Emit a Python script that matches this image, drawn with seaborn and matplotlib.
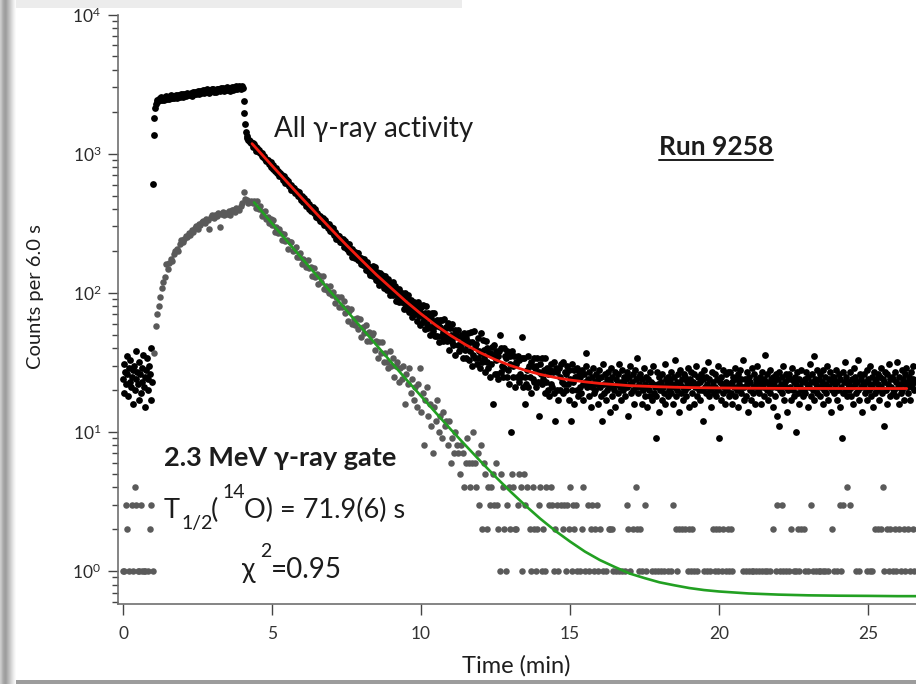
import numpy as np
import pandas as pd
import matplotlib
matplotlib.use("Agg")
import matplotlib.pyplot as plt
from matplotlib.lines import Line2D
from matplotlib.patches import Rectangle
from matplotlib.ticker import LogLocator, NullFormatter, NullLocator
import seaborn as sns

# ---------------------------------------------------------------- data
BLACK_BIN_MIN = 0.025   # time step of the all-gamma series (min)
GRAY_BIN_MIN = 0.05     # time step of the 2.3 MeV gated series (min)

# all gamma-ray activity, counts per 6.0 s
black_background = [24, 31, 19, 27, 22, 35, 26, 18, 29, 23, 33, 21, 25, 16, 28, 30, 20, 38, 24, 27,
                    22, 17, 32, 26, 19, 29, 23, 36, 21, 25, 15, 28, 34, 24, 20, 30, 26, 17, 40, 23]

black_beam = [610, 1360, 1790, 2120, 2290, 2360, 2420, 2390, 2460,
              2504, 2436, 2540, 2423, 2477, 2508, 2413, 2544, 2474, 2580, 2460, 2541, 2521, 2451, 2583, 2513, 2619, 2498, 2580, 2534,
              2514, 2596, 2653, 2555, 2508, 2644, 2597, 2628, 2555, 2691, 2592, 2675, 2550, 2634, 2692, 2591, 2677, 2735, 2633, 2665,
              2697, 2623, 2737, 2690, 2615, 2784, 2683, 2743, 2777, 2674, 2736, 2825, 2721, 2673, 2790, 2824, 2720, 2782, 2873, 2767,
              2744, 2860, 2808, 2784, 2900, 2764, 2852, 2743, 2889, 2836, 2812, 2901, 2933, 2795, 2856, 2889, 2778, 2925, 2843, 2905,
              2907, 2823, 2971, 2858, 2890, 2951, 2809, 2928, 2873, 2963, 2995, 2853, 2914, 2888, 2978, 2835, 2955, 2988, 2873, 2935,
              2999, 2916, 2951, 3045, 2903, 2997, 2943, 3038, 2984, 2929, 3025, 3060,
              2950, 2400, 1950, 1620, 1430, 1330, 1290, 1260, 1245, 1232, 1215, 1200, 1186]

black_decay = [
    1191, 1123, 1176, 1109, 1111, 1052, 1102, 1060, 1024, 1062, 1012, 1013, 959, 1014, 952, 968, 913, 928, 878, 906,
    881, 904, 849, 858, 871, 805, 819, 824, 777, 794, 748, 783, 758, 728, 755, 719, 695, 728, 687, 698,
    693, 650, 686, 644, 616, 652, 631, 604, 638, 581, 591, 600, 546, 578, 565, 541, 566, 521, 540, 517,
    536, 492, 531, 489, 497, 461, 497, 472, 451, 482, 447, 455, 418, 460, 419, 435, 399, 415, 385, 408,
    391, 413, 376, 387, 400, 353, 367, 373, 343, 359, 326, 356, 341, 323, 344, 321, 306, 334, 305, 315,
    314, 292, 313, 291, 277, 297, 285, 272, 291, 262, 267, 273, 245, 261, 256, 243, 258, 233, 244, 233,
    231, 244, 234, 214, 236, 218, 226, 207, 213, 223, 197, 208, 199, 206, 182, 199, 186, 197, 179, 184,
    192, 173, 193, 172, 177, 162, 179, 168, 158, 174, 159, 164, 145, 166, 147, 156, 141, 147, 134, 146,
    138, 157, 132, 143, 154, 123, 135, 142, 121, 135, 114, 138, 127, 118, 135, 120, 109, 133, 113, 122,
    121, 104, 125, 107, 97, 117, 110, 100, 119, 97, 103, 111, 87, 105, 101, 92, 106, 86, 100, 89,
    86, 100, 92, 77, 99, 83, 93, 76, 85, 96, 73, 86, 78, 88, 67, 84, 74, 86, 70, 79,
    81, 63, 86, 68, 73, 59, 79, 70, 62, 82, 65, 72, 55, 80, 60, 71, 56, 66, 50, 66,
    57, 71, 53, 62, 71, 49, 58, 64, 49, 60, 44, 64, 57, 49, 64, 52, 45, 65, 49, 57,
    56, 45, 61, 47, 39, 56, 50, 44, 60, 42, 48, 54, 36, 50, 49, 42, 54, 38, 49, 42,
    40, 50, 45, 34, 51, 39, 47, 34, 42, 51, 33, 44, 38, 52, 30, 44, 36, 53, 34, 41,
    43, 31, 47, 34, 38, 29, 51, 37, 32, 46, 34, 39, 27, 45, 32, 40, 29, 37, 25, 37,
    31, 41, 16, 36, 42, 26, 33, 38, 26, 35, 24, 38, 50, 27, 40, 30, 25, 40, 29, 35,
    34, 25, 38, 28, 22, 35, 31, 10, 38, 25, 30, 35, 21, 32, 31, 25, 35, 23, 33, 26,
    25, 34, 48, 21, 34, 25, 16, 22, 28, 35, 21, 30, 25, 32, 19, 30, 24, 34, 23, 29,
    30, 21, 34, 23, 27, 13, 31, 26, 22, 34, 24, 28, 19, 34, 23, 29, 20, 26, 18, 28,
    22, 31, 21, 27, 32, 19, 12, 29, 20, 27, 17, 29, 25, 20, 31, 23, 19, 32, 22, 27,
    26, 20, 30, 22, 17, 28, 24, 12, 31, 20, 23, 28, 16, 25, 25, 20, 29, 18, 27, 21,
    25, 19, 28, 22, 17, 26, 23, 37, 30, 21, 24, 18, 27, 22, 15, 25, 21, 29, 19, 23,
    20, 26, 22, 16, 24, 28, 21, 18, 25, 12, 31, 19, 22, 26, 17, 24, 20, 27, 21, 14,
    23, 29, 18, 25, 21, 20, 27, 15, 24, 22, 26, 19, 31, 21, 23, 17, 28, 20, 25, 22,
    18, 24, 27, 21, 13, 25, 22, 30, 19, 23, 26, 20, 16, 28, 21, 24, 34, 19, 22, 25,
    26, 21, 16, 24, 20, 29, 22, 18, 25, 21, 15, 24, 20, 27, 18, 23, 17, 22, 30, 19,
    21, 9, 18, 27, 22, 14, 25, 20, 23, 17, 26, 21, 19, 31, 16, 24, 22, 18, 25, 20,
    24, 19, 27, 22, 16, 25, 21, 33, 18, 23, 20, 26, 14, 22, 28, 19, 24, 21, 17, 26,
    20, 25, 18, 23, 29, 21, 15, 24, 22, 27, 19, 23, 16, 26, 21, 30, 18, 22, 25, 20,
    23, 17, 26, 20, 24, 12, 28, 21, 19, 25, 22, 32, 18, 24, 20, 15, 27, 21, 23, 19,
    26, 21, 18, 24, 30, 20, 9, 23, 17, 25, 22, 28, 19, 21, 16, 26, 23, 20, 27, 18,
    22, 27, 19, 23, 16, 25, 21, 29, 18, 24, 20, 26, 15, 22, 28, 19, 24, 21, 33, 17,
    21, 24, 18, 27, 22, 14, 25, 20, 23, 17, 29, 21, 19, 26, 16, 24, 22, 30, 20, 23,
    19, 25, 22, 16, 27, 21, 24, 18, 36, 23, 20, 26, 17, 22, 28, 19, 24, 21, 15, 25,
    23, 18, 26, 21, 13, 24, 11, 27, 20, 22, 25, 19, 30, 17, 23, 21, 26, 14, 24, 20,
    26, 21, 17, 24, 29, 20, 23, 18, 25, 10, 22, 27, 19, 24, 16, 21, 28, 20, 23, 18,
    20, 24, 19, 27, 22, 15, 25, 21, 31, 18, 23, 26, 20, 35, 17, 24, 22, 19, 28, 21,
    24, 18, 26, 21, 23, 16, 28, 20, 25, 19, 22, 30, 17, 24, 21, 27, 14, 23, 20, 25,
    19, 25, 22, 28, 17, 23, 20, 26, 15, 24, 21, 9, 27, 19, 23, 32, 20, 25, 18, 22,
    23, 20, 27, 18, 24, 21, 16, 29, 22, 25, 19, 23, 33, 20, 17, 26, 21, 24, 14, 22,
    21, 26, 19, 23, 28, 17, 24, 20, 22, 30, 18, 25, 21, 15, 27, 23, 19, 24, 20, 26,
    22, 17, 25, 21, 29, 19, 24, 11, 23, 27, 20, 16, 26, 22, 31, 18, 24, 21, 25, 19,
    24, 20, 27, 18, 23, 32, 21, 16, 25, 22, 19, 28, 20, 24, 17, 26, 22, 29, 21, 23,
    19, 25, 22, 17, 27, 21, 24, 30, 20, 23]

# 2.3 MeV gamma-ray gate, counts per 6.0 s (zeros fall off the log axis)
gray_background = [1, 1, 3, 2, 1, 0, 3, 1, 4, 3, 1, 1, 3, 1, 1, 1, 0, 1, 2, 3, 1]

gray_beam = [37, 58, 70, 80, 93, 108, 120, 130, 160, 148, 165, 176, 170, 190, 200, 207, 198, 225, 238,
             230, 245, 258, 250, 268, 262, 281, 275, 290, 300, 288, 313, 305, 320, 330, 318, 340, 335, 288, 350,
             360, 345, 365, 355, 372, 297, 370, 380, 362, 375, 370, 385, 360, 392, 391, 380, 405, 402, 395, 420,
             440, 528, 470, 461, 440, 450, 455, 440]

gray_decay = [
    458, 406, 454, 400, 417, 358, 378, 386, 339, 350,
    316, 337, 308, 332, 273, 297, 269, 288, 267, 239,
    265, 235, 240, 208, 231, 233, 200, 202, 212, 180,
    180, 194, 162, 176, 168, 152, 173, 150, 154, 131,
    151, 129, 136, 115, 133, 119, 131, 106, 112, 104,
    99, 111, 96, 101, 84, 93, 94, 79, 93, 79,
    87, 72, 78, 63, 74, 77, 60, 65, 59, 66,
    55, 65, 48, 57, 51, 59, 45, 52, 45, 50,
    51, 39, 45, 34, 44, 37, 44, 32, 37, 32,
    29, 38, 30, 34, 25, 30, 32, 23, 29, 24,
    30, 16, 26, 22, 29, 19, 24, 17, 21, 15,
    22, 29, 14, 19, 8, 17, 21, 13, 16, 11,
    7, 15, 12, 17, 10, 13, 9, 14, 11, 12,
    8, 12, 6, 9, 7, 10, 8, 7, 5, 8,
    7, 4, 6, 9, 6, 4, 6, 10, 6, 4,
    7, 3, 8, 2, 6, 5, 2, 4, 3, 4,
    5, 3, 6, 3, 2, 1, 5, 4, 2, 1,
    3, 4, 2, 5, 4, 2, 2, 3, 5, 4,
    1, 5, 3, 4, 0, 2, 1, 4, 2, 1,
    2, 3, 4, 1, 2, 1, 4, 0, 3, 4,
    3, 1, 2, 3, 1, 0, 3, 2, 3, 1,
    3, 2, 4, 1, 3, 2, 3, 1, 0, 1,
    2, 4, 1, 0, 3, 1, 2, 3, 1, 2,
    3, 1, 2, 0, 1, 0, 1, 0, 2, 2,
    2, 1, 0, 1, 0, 1, 0, 1, 0, 1,
    3, 2, 1, 0, 2, 0, 4, 2, 1, 2,
    1, 0, 3, 1, 0, 0, 0, 1, 0, 1,
    0, 1, 0, 1, 0, 1, 0, 0, 1, 0,
    1, 3, 0, 2, 1, 2, 0, 2, 0, 2,
    0, 1, 2, 1, 2, 1, 0, 1, 0, 0,
    0, 0, 1, 0, 1, 0, 1, 0, 2, 1,
    2, 1, 2, 0, 1, 2, 0, 1, 2, 1,
    2, 1, 0, 0, 0, 0, 0, 0, 1, 0,
    1, 0, 1, 0, 1, 1, 0, 1, 0, 1,
    0, 1, 0, 1, 1, 0, 1, 0, 2, 0,
    1, 3, 0, 1, 3, 1, 0, 1, 0, 1,
    2, 0, 1, 0, 1, 2, 1, 2, 0, 2,
    1, 0, 1, 0, 3, 1, 0, 1, 0, 1,
    1, 0, 1, 1, 0, 1, 0, 0, 2, 1,
    0, 1, 0, 3, 1, 3, 0, 0, 4, 0,
    3, 0, 0, 0, 1, 0, 1, 0, 0, 0,
    0, 1, 0, 1, 0, 1, 0, 2, 0, 2,
    0, 2, 4, 1, 0, 2, 1, 2, 0, 1,
    2, 1, 0, 2, 1, 0, 2, 1, 0, 2,
    1, 0, 2, 1]

# fitted decay curves
red_fit_time = [4.33, 4.5, 5.0, 5.5, 6.0, 6.5, 7.0, 7.5, 8.0, 8.5, 9.0, 9.5, 10.0, 10.5, 11.0, 11.5,
                12.0, 12.5, 13.0, 13.5, 14.0, 14.5, 15.0, 15.5, 16.0, 16.5, 17.0, 17.5, 18.0, 18.5,
                19.0, 19.5, 20.0, 21.0, 22.0, 23.0, 24.0, 25.0, 26.3]
red_fit_counts = [1180, 1076, 820, 627, 480, 369, 284, 220, 172, 135, 108, 86.5, 70.5, 58.4, 49.2, 42.3,
                  37.0, 33.0, 30.0, 27.7, 25.9, 24.6, 23.6, 22.9, 22.3, 21.9, 21.5, 21.3, 21.1, 20.95,
                  20.84, 20.76, 20.7, 20.6, 20.56, 20.53, 20.51, 20.5, 20.5]

green_fit_time = [4.4, 4.5, 5.0, 5.5, 6.0, 6.5, 7.0, 7.5, 8.0, 8.5, 9.0, 9.5, 10.0, 10.5, 11.0, 11.5,
                  12.0, 12.5, 13.0, 13.5, 14.0, 14.5, 15.0, 15.5, 16.0, 16.5, 17.0, 17.5, 18.0, 18.5,
                  19.0, 19.5, 20.0, 21.0, 22.0, 23.0, 24.0, 25.0, 26.0, 26.7]
green_fit_counts = [446, 421, 315, 236, 177, 133, 99.5, 74.7, 56.1, 42.2, 31.7, 23.9, 18.1, 13.7, 10.4, 7.98,
                    6.14, 4.76, 3.73, 2.96, 2.38, 1.95, 1.63, 1.38, 1.20, 1.07, 0.96, 0.89, 0.83, 0.79,
                    0.755, 0.73, 0.713, 0.69, 0.677, 0.669, 0.665, 0.663, 0.66, 0.66]

x_ticks = [0, 5, 10, 15, 20, 25]
y_ticks = [1, 10, 100, 1000, 10000]
y_tick_labels = [r"$\mathregular{10^{0}}$", r"$\mathregular{10^{1}}$", r"$\mathregular{10^{2}}$",
                 r"$\mathregular{10^{3}}$", r"$\mathregular{10^{4}}$"]

# ---------------------------------------------------------------- frames
black_counts = black_background + black_beam + black_decay
gray_counts = gray_background + gray_beam + gray_decay
black_df = pd.DataFrame({"time": np.arange(len(black_counts)) * BLACK_BIN_MIN,
                         "counts": black_counts})
gray_df = pd.DataFrame({"time": np.arange(len(gray_counts)) * GRAY_BIN_MIN,
                        "counts": gray_counts})
gray_df = gray_df[gray_df["counts"] > 0]

# ---------------------------------------------------------------- style
sns.set_theme(style="ticks")
plt.rcParams["font.family"] = ["Lato", "DejaVu Sans"]
plt.rcParams["mathtext.fontset"] = "custom"
plt.rcParams["mathtext.rm"] = "Lato"
plt.rcParams["mathtext.it"] = "Lato:italic"
plt.rcParams["mathtext.bf"] = "Lato:bold"

W, H = 916, 684
fig = plt.figure(figsize=(W / 100, H / 100), dpi=100, facecolor="white")


def fx(px):
    return px / W


def fy(py):
    return 1 - py / H


# frame decorations around the slide
fig.add_artist(Rectangle((0, fy(8)), fx(462), 8 / H, transform=fig.transFigure,
                         facecolor="#ececec", edgecolor="none", zorder=0))
fig.add_artist(Rectangle((0, 0), 1, 4 / H, transform=fig.transFigure,
                         facecolor="#9c9c9c", edgecolor="none", zorder=0))
shade = fig.add_axes([0, 0, fx(16), 1], zorder=0)
shade.imshow(np.array([[0.80, 0.76, 0.70, 0.66, 0.63, 0.62, 0.64, 0.68, 0.72, 0.76,
                        0.80, 0.84, 0.88, 0.92, 0.95, 0.98]]),
             cmap="gray", vmin=0, vmax=1, aspect="auto", extent=(0, 1, 0, 1))
shade.set_axis_off()

ax = fig.add_axes([fx(118), fy(604), 1 - fx(118), (604 - 14.5) / H], zorder=1)
ax.set_facecolor("none")

sns.scatterplot(data=black_df, x="time", y="counts", color="black", s=24,
                linewidth=0, ax=ax, legend=False, zorder=2)
sns.scatterplot(data=gray_df, x="time", y="counts", color="#5a5a5a", s=22,
                linewidth=0, ax=ax, legend=False, zorder=2)
sns.lineplot(x=red_fit_time, y=red_fit_counts, color="#f21b0f", linewidth=2.0,
             estimator=None, sort=False, ax=ax, zorder=3)
sns.lineplot(x=green_fit_time, y=green_fit_counts, color="#22a022", linewidth=1.9,
             estimator=None, sort=False, ax=ax, zorder=3)

ax.set_yscale("log")
ax.set_xlim(-0.168, 26.61)
ax.set_ylim(0.5796, 1e4)
ax.set_xlabel("")
ax.set_ylabel("")

ax.set_xticks(x_ticks, labels=[str(v) for v in x_ticks])
ax.xaxis.set_minor_locator(NullLocator())
ax.set_yticks(y_ticks, labels=y_tick_labels)
ax.yaxis.set_minor_locator(LogLocator(base=10, subs=np.arange(2, 10)))
ax.yaxis.set_minor_formatter(NullFormatter())

spine_col = "#6f6f6f"
for side in ("top", "right"):
    ax.spines[side].set_visible(False)
for side in ("left", "bottom"):
    ax.spines[side].set_color(spine_col)
    ax.spines[side].set_linewidth(1.2)

ax.tick_params(axis="y", which="major", direction="out", length=7, width=1.0,
               color="#444444", labelsize=12.5, labelcolor="#2a2a2a", pad=5)
ax.tick_params(axis="y", which="minor", direction="out", length=4.5, width=1.0,
               color="#444444")
ax.tick_params(axis="x", which="major", direction="out", length=8, width=1.0,
               color="#444444", labelsize=12.5, labelcolor="#333333", pad=8)

# axis titles
fig.text(fx(35), fy(297), "Counts per 6.0 s", rotation=90, ha="center", va="center",
         fontsize=14.5, color="#1e1e1e")
fig.text(fx(516), fy(666), "Time (min)", ha="center", va="center",
         fontsize=17, color="#1e1e1e")

# annotations
tc = "#1c1c1c"
fig.text(fx(274), fy(137), "All γ-ray activity", fontsize=20, color=tc, va="baseline")
run_txt = fig.text(fx(659), fy(155), "Run 9258", fontsize=19, fontweight="bold",
                   color=tc, va="baseline")
fig.text(fx(164), fy(466), "2.3 MeV γ-ray gate", fontsize=19.5, fontweight="bold",
         color=tc, va="baseline")
fig.text(fx(164), fy(518), "T", fontsize=19.5, color=tc, va="baseline")
fig.text(fx(181), fy(529), "1/2", fontsize=14, color=tc, va="baseline")
fig.text(fx(211), fy(518), "(", fontsize=19.5, color=tc, va="baseline")
fig.text(fx(222), fy(498), "14", fontsize=14, color=tc, va="baseline")
fig.text(fx(244), fy(518), "O) = 71.9(6) s", fontsize=19.5, color=tc, va="baseline")
fig.text(fx(242), fy(578), "χ", fontsize=20, color=tc, va="baseline")
fig.text(fx(260), fy(557), "2", fontsize=14, color=tc, va="baseline")
fig.text(fx(271), fy(578), "=0.95", fontsize=20, color=tc, va="baseline")

# underline below the run number
renderer = fig.canvas.get_renderer()
bb = run_txt.get_window_extent(renderer=renderer)
fig.add_artist(Line2D([bb.x0 / W, bb.x1 / W], [fy(160), fy(160)], transform=fig.transFigure,
                      color=tc, linewidth=1.4))

fig.savefig("out.png", dpi=100, facecolor="white")
